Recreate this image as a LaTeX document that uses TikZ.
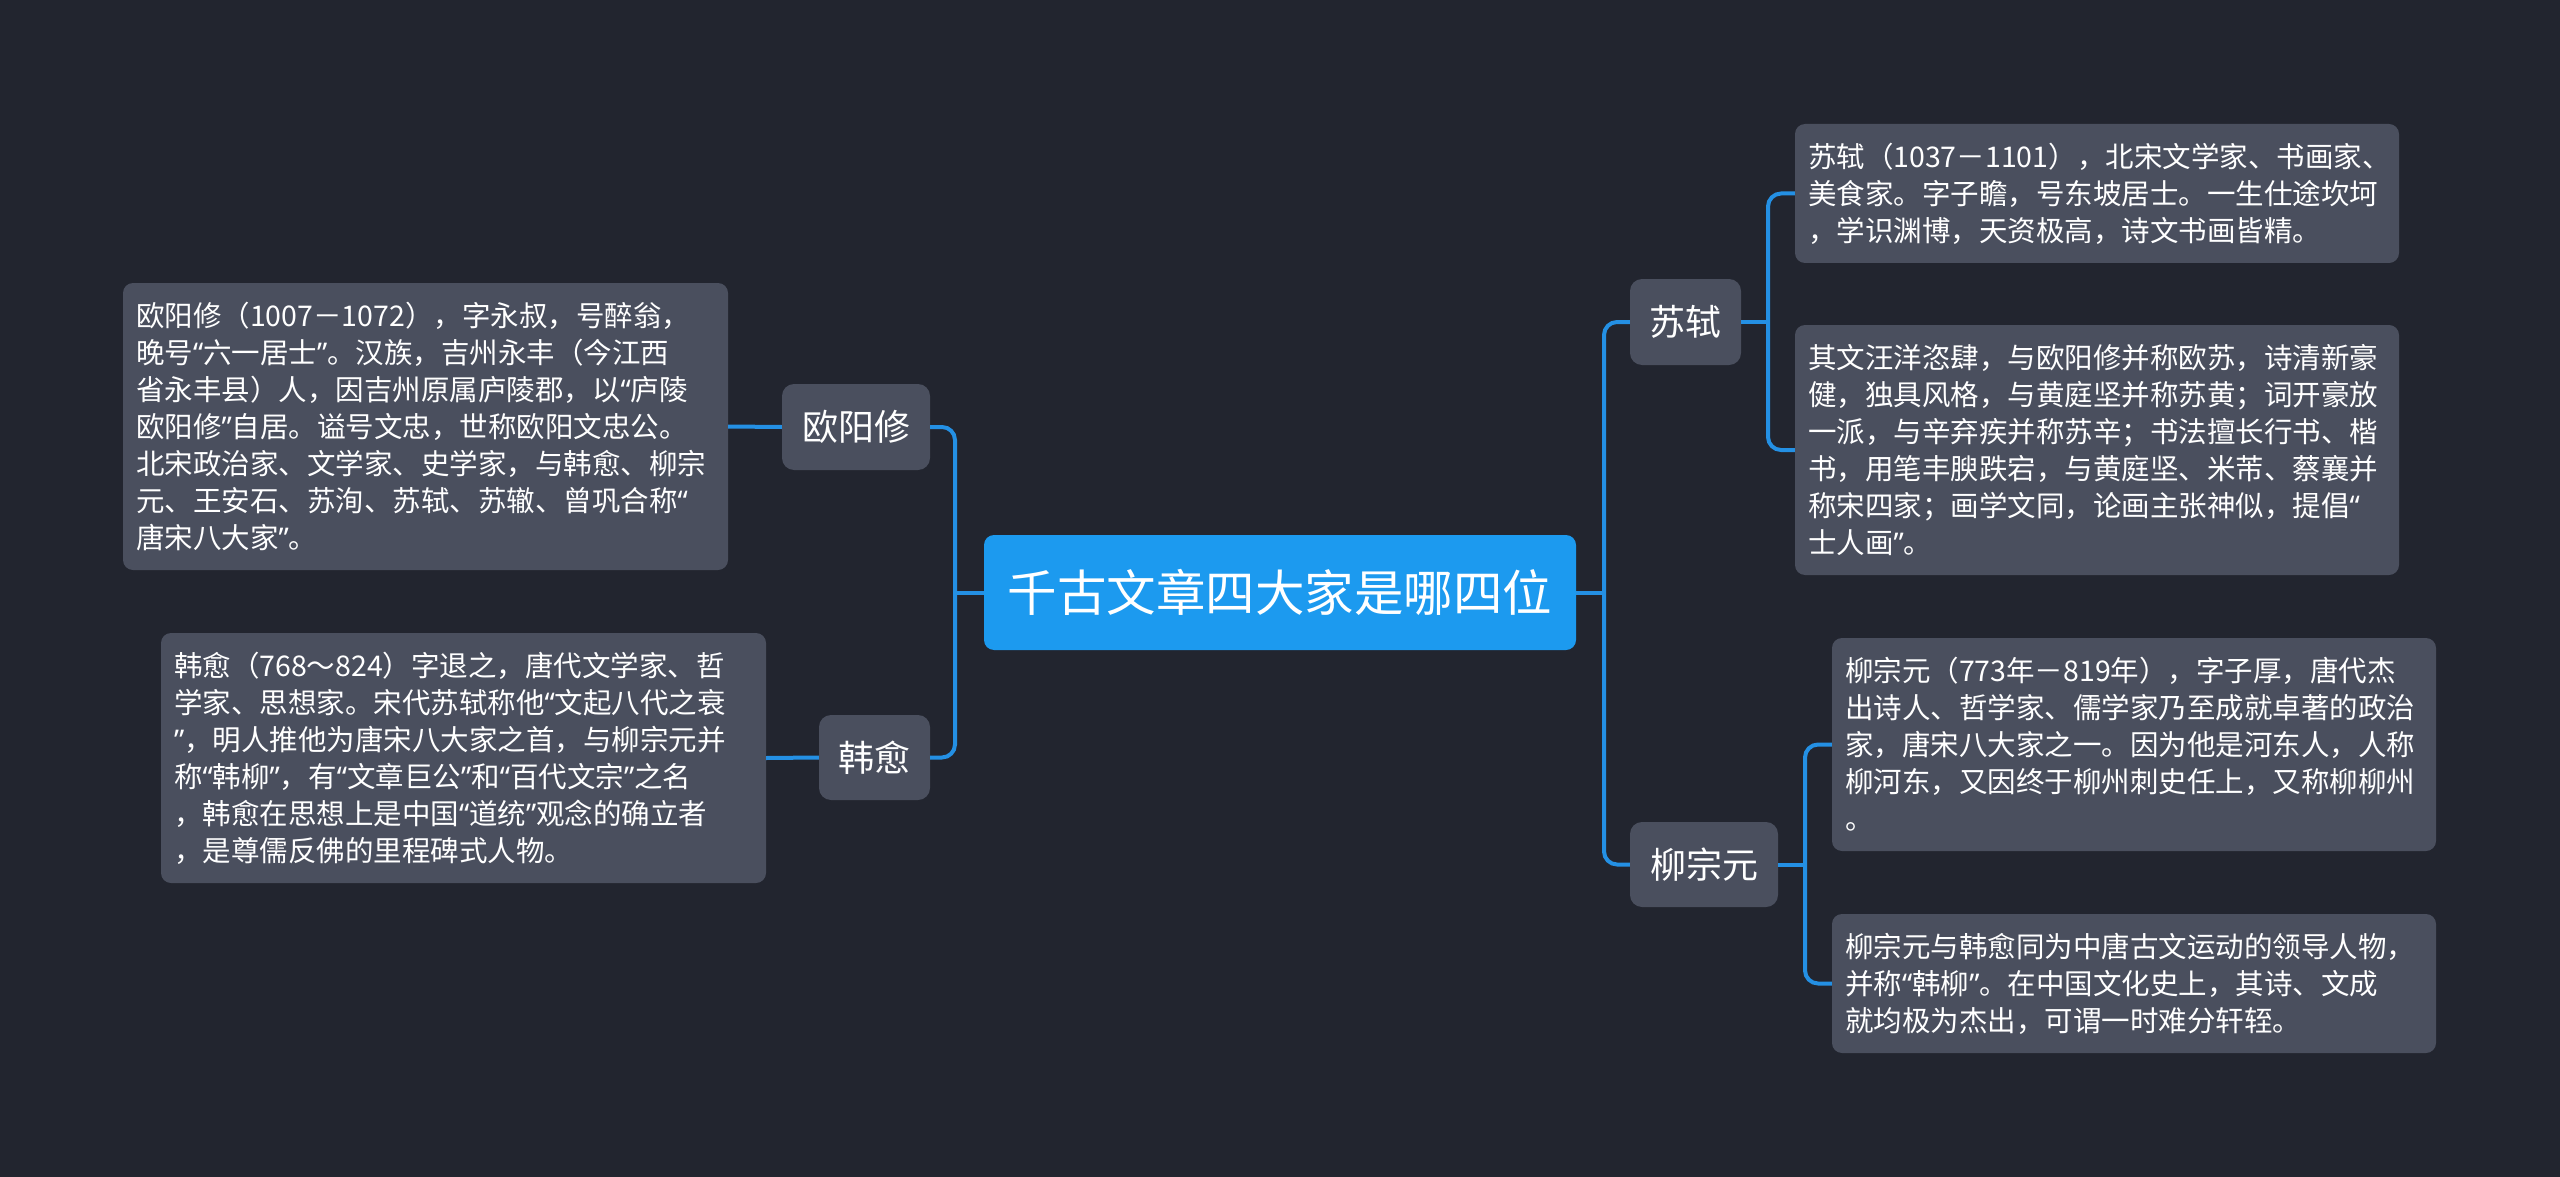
\documentclass[tikz,border=0pt]{standalone}
\usepackage{fontspec}
\setmainfont{Noto Sans CJK SC}
\newfontfamily\latinq{Noto Sans}
\newcommand\oq{{\latinq “}}
\newcommand\cq{{\latinq ”}}
\usetikzlibrary{calc}
\definecolor{bgc}{HTML}{22252F}
\definecolor{boxc}{HTML}{4A4F5E}
\definecolor{bluec}{HTML}{1C9AEF}
\definecolor{linec}{HTML}{2490E4}
\tikzset{
  conn/.style={draw=linec, line width=4pt, rounded corners=13pt},
  rootbox/.style={fill=bluec, text=white, rounded corners=10pt, inner sep=0pt,
    font={\fontsize{49.5}{56}\selectfont}},
  topicbox/.style={fill=boxc, text=white, rounded corners=12pt, inner sep=0pt,
    font={\fontsize{36}{42}\selectfont}},
  notebox/.style={fill=boxc, text=white, rounded corners=10pt, inner xsep=13pt, inner ysep=0pt,
    align=left, font={\fontsize{28.5}{37}\selectfont}},
}
\begin{document}
\begin{tikzpicture}[x=1pt,y=-1pt]
\fill[bgc] (0,0) rectangle (2560,1177);
\useasboundingbox (0,0) rectangle (2560,1177);

% central
\node[rootbox, minimum width=592pt, minimum height=115pt] (c) at (1280,592.5) {千古文章四大家是哪四位};

% topics
\node[topicbox, minimum width=148pt, minimum height=86pt] (oy) at (856,427) {欧阳修};
\node[topicbox, minimum width=111pt, minimum height=85pt] (hy) at (874.5,757.5) {韩愈};
\node[topicbox, minimum width=111pt, minimum height=86pt] (ss) at (1685.5,322) {苏轼};
\node[topicbox, minimum width=148pt, minimum height=85pt] (lz) at (1704,864.5) {柳宗元};

% notes
\node[notebox, text width=579pt, minimum height=287pt] (oyt) at (425.5,426.5) {欧阳修（1007－1072），字永叔，号醉翁，\\晚号\oq 六一居士\cq 。汉族，吉州永丰（今江西\\省永丰县）人，因吉州原属庐陵郡，以\oq 庐陵\\欧阳修\cq 自居。谥号文忠，世称欧阳文忠公。\\北宋政治家、文学家、史学家，与韩愈、柳宗\\元、王安石、苏洵、苏轼、苏辙、曾巩合称\oq\\唐宋八大家\cq 。};
\node[notebox, text width=579pt, minimum height=250pt] (hyt) at (463.5,758) {韩愈（768～824）字退之，唐代文学家、哲\\学家、思想家。宋代苏轼称他\oq 文起八代之衰\\\cq ，明人推他为唐宋八大家之首，与柳宗元并\\称\oq 韩柳\cq ，有\oq 文章巨公\cq 和\oq 百代文宗\cq 之名\\，韩愈在思想上是中国\oq 道统\cq 观念的确立者\\，是尊儒反佛的里程碑式人物。};
\node[notebox, text width=578pt, minimum height=139pt] (sst1) at (2097,193.5) {苏轼（1037－1101），北宋文学家、书画家、\\美食家。字子瞻，号东坡居士。一生仕途坎坷\\，学识渊博，天资极高，诗文书画皆精。};
\node[notebox, text width=578pt, minimum height=250pt] (sst2) at (2097,450) {其文汪洋恣肆，与欧阳修并称欧苏，诗清新豪\\健，独具风格，与黄庭坚并称苏黄；词开豪放\\一派，与辛弃疾并称苏辛；书法擅长行书、楷\\书，用笔丰腴跌宕，与黄庭坚、米芾、蔡襄并\\称宋四家；画学文同，论画主张神似，提倡\oq\\士人画\cq 。};
\node[notebox, text width=578pt, minimum height=213pt] (lzt1) at (2134,744.5) {柳宗元（773年－819年），字子厚，唐代杰\\出诗人、哲学家、儒学家乃至成就卓著的政治\\家，唐宋八大家之一。因为他是河东人，人称\\柳河东，又因终于柳州刺史任上，又称柳柳州\\。};
\node[notebox, text width=578pt, minimum height=139pt] (lzt2) at (2134,983.5) {柳宗元与韩愈同为中唐古文运动的领导人物，\\并称\oq 韩柳\cq 。在中国文化史上，其诗、文成\\就均极为杰出，可谓一时难分轩轾。};

% trunk coordinates
\coordinate (lt) at (955,592.5);
\coordinate (rt) at (1604,592.5);
\coordinate (st) at (1768,322);
\coordinate (ltz) at (1805,864.5);

% left side
\draw[conn] (c.west) -- (lt);
\draw[conn] (oy.east) -| (lt) |- (hy.east);
\draw[conn] (oy.west) -- (oyt.east);
\draw[conn] (hy.west) -- (hyt.east);

% right side
\draw[conn] (c.east) -- (rt);
\draw[conn] (ss.west) -| (rt) |- (lz.west);
\draw[conn] (ss.east) -- (st);
\draw[conn] (sst1.west) -| (st) |- (sst2.west);
\draw[conn] (lz.east) -- (ltz);
\draw[conn] (lzt1.west) -| (ltz) |- (lzt2.west);
\end{tikzpicture}
\end{document}
